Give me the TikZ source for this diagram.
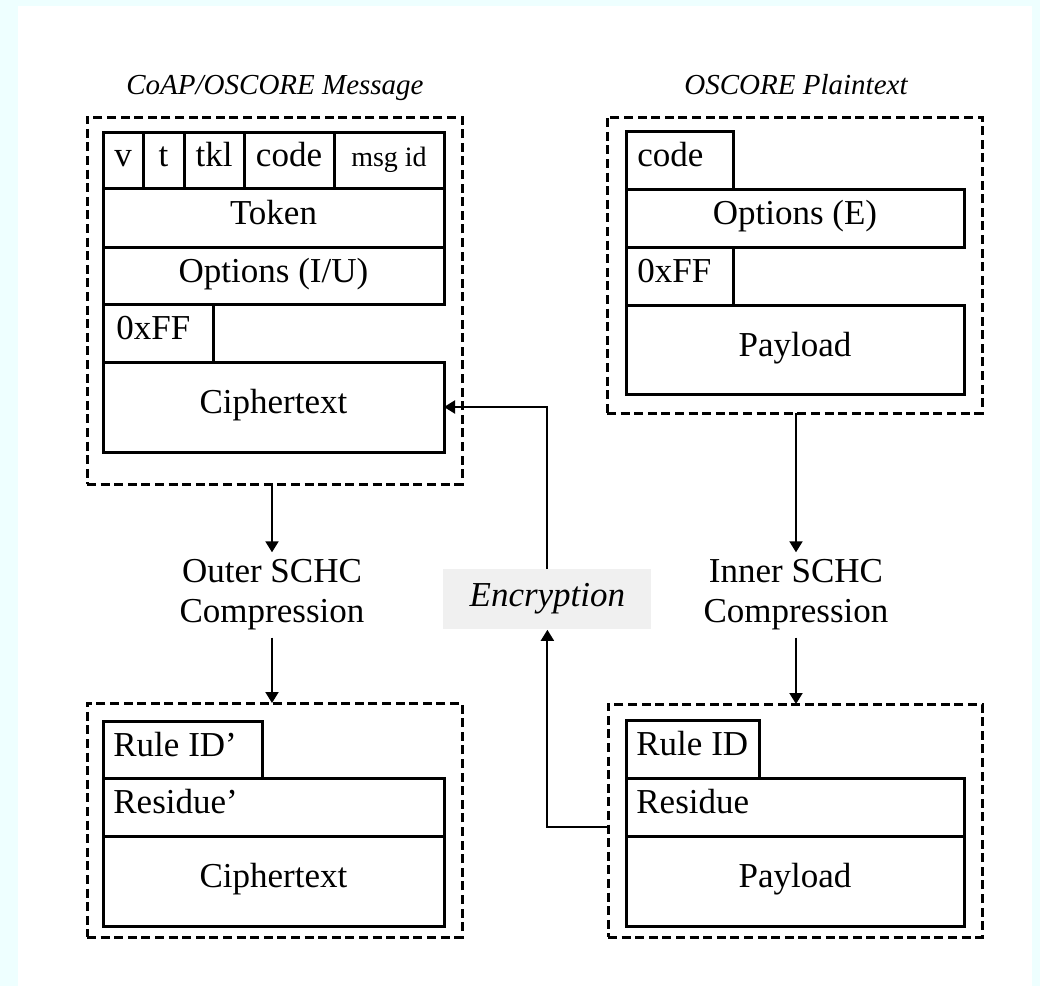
\documentclass[tikz,border=0pt]{standalone}
\usepackage{fontspec}
\setmainfont{Liberation Serif}
\usetikzlibrary{arrows.meta}

\definecolor{bgcyan}{RGB}{238,255,255}
\definecolor{encgray}{RGB}{240,240,240}

\tikzset{
  field/.style={draw, line width=1.5pt, inner sep=0pt, outer sep=0pt, anchor=north west,
    text height=.66em, text depth=0pt},
  lbl/.style={anchor=west, inner sep=0pt, text height=.66em, text depth=0pt},
  frame/.style={draw, line width=1.5pt, dash pattern=on 4.5pt off 2.3pt, inner sep=0pt, outer sep=0pt,
    anchor=north west},
  title/.style={font=\fontsize{14.5}{17}\selectfont\itshape, inner sep=0pt, text height=.66em, text depth=0pt},
  stage/.style={align=center, inner sep=3.5pt},
  enc/.style={fill=encgray, inner sep=0pt, anchor=north west, minimum width=104pt, minimum height=30pt,
    font=\fontsize{17.5}{20}\selectfont\itshape, text height=.66em, text depth=0pt},
  arr/.style={-{Triangle[length=5.5pt,width=6.5pt]}, line width=1pt},
}

\begin{document}
\begin{tikzpicture}[x=0.5pt, y=-0.5pt, font=\fontsize{17.5}{20}\selectfont]
  \useasboundingbox (0,0) rectangle (1040,986);
  \fill[bgcyan] (0,0) rectangle (1040,986);
  \fill[white] (18,6) rectangle (1032,986);

  % CoAP/OSCORE message
  \node[title] (msgtitle) at (275,88) {CoAP/OSCORE Message};
  \node[frame, minimum width=187.5pt, minimum height=183.5pt] (msgbox) at (87,117) {};
  \node[field, minimum width=20pt, minimum height=28pt] (ver) at (103,132) {v};
  \node[field, minimum width=20.5pt, minimum height=28pt] (typ) at (143,132) {t};
  \node[field, minimum width=30pt, minimum height=28pt] (tkl) at (184,132) {tkl};
  \node[field, minimum width=45pt, minimum height=28pt] (code) at (244,132) {code};
  \node[field, minimum width=55pt, minimum height=28pt, font=\fontsize{14}{16}\selectfont] (msgid) at (334,132) {msg id};
  \node[field, minimum width=170.5pt, minimum height=29.5pt] (token) at (103,188) {Token};
  \node[field, minimum width=170.5pt, minimum height=28.5pt] (optiu) at (103,247) {Options (I/U)};
  \node[field, minimum width=55pt, minimum height=29pt] (mff) at (103,304) {};
  \node[lbl] (mfftxt) at ([xshift=6.5pt]mff.west) {0xFF};
  \node[field, minimum width=170.5pt, minimum height=45pt] (mcipher) at (103,362) {Ciphertext};

  % OSCORE plaintext
  \node[title] (pttitle) at (796,88) {OSCORE Plaintext};
  \node[frame, minimum width=187.5pt, minimum height=148pt] (ptbox) at (607,117) {};
  \node[field, minimum width=53.5pt, minimum height=29pt] (pcode) at (626,131) {};
  \node[lbl] (pcodetxt) at ([xshift=5.5pt]pcode.west) {code};
  \node[field, minimum width=169pt, minimum height=29pt] (opte) at (626,189) {Options (E)};
  \node[field, minimum width=53.5pt, minimum height=29pt] (pff) at (626,247) {};
  \node[lbl] (pfftxt) at ([xshift=5.5pt]pff.west) {0xFF};
  \node[field, minimum width=169pt, minimum height=44.5pt] (ppay) at (626,305) {Payload};

  % outer compressed
  \node[frame, minimum width=187.5pt, minimum height=117pt] (outbox) at (87,703) {};
  \node[field, minimum width=79.5pt, minimum height=28.5pt] (orule) at (103,721) {};
  \node[lbl] (oruletxt) at ([xshift=5pt]orule.west) {Rule ID’};
  \node[field, minimum width=170.5pt, minimum height=29pt] (ores) at (103,778) {};
  \node[lbl] (orestxt) at ([xshift=5pt]ores.west) {Residue’};
  \node[field, minimum width=170.5pt, minimum height=45pt] (ocipher) at (103,836) {Ciphertext};

  % inner compressed
  \node[frame, minimum width=187pt, minimum height=116.5pt] (inbox) at (608,704) {};
  \node[field, minimum width=66.5pt, minimum height=29pt] (irule) at (626,720) {};
  \node[lbl] (iruletxt) at ([xshift=5pt]irule.west) {Rule ID};
  \node[field, minimum width=169pt, minimum height=29pt] (ires) at (626,778) {};
  \node[lbl] (irestxt) at ([xshift=5pt]ires.west) {Residue};
  \node[field, minimum width=169pt, minimum height=45pt] (ipay) at (626,836) {Payload};

  % steps
  \node[stage] (outer) at (272,595) {Outer SCHC\\Compression};
  \node[stage] (inner) at (796,595) {Inner SCHC\\Compression};
  \node[enc] (encr) at (443,569) {Encryption};

  \draw[arr] (msgbox.south -| outer.north) -- (outer.north);
  \draw[arr] (outer.south) -- (outbox.north -| outer.south);
  \draw[arr] (ptbox.south -| inner.north) -- (inner.north);
  \draw[arr] (inner.south) -- (inbox.north -| inner.south);
  \draw[arr] ([yshift=-3.25pt]inbox.west) -| (encr.south);
  \draw[arr] (encr.north) |- (mcipher.east);
\end{tikzpicture}
\end{document}
